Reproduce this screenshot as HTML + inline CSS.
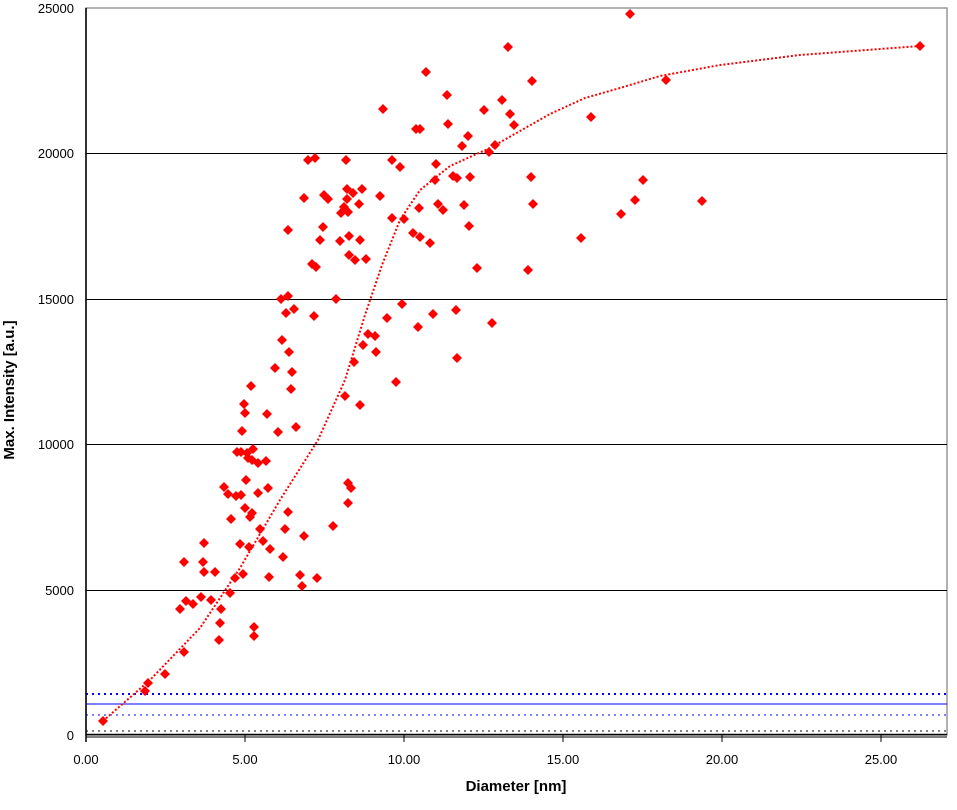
<!DOCTYPE html>
<html><head><style>body{margin:0;background:#fff}</style></head><body>
<svg width="957" height="805" xmlns="http://www.w3.org/2000/svg" xmlns:xlink="http://www.w3.org/1999/xlink" font-family="Liberation Sans, sans-serif">
<defs><polygon id="d" points="0,-5 5,0 0,5 -5,0" fill="#f00"/></defs>
<rect x="86" y="8" width="861" height="727" fill="#fff" stroke="#999" stroke-width="1.5"/>
<g stroke="#000" stroke-width="1">
<line x1="86" y1="153.5" x2="947" y2="153.5"/><line x1="86" y1="299.5" x2="947" y2="299.5"/>
<line x1="86" y1="444.5" x2="947" y2="444.5"/><line x1="86" y1="590.5" x2="947" y2="590.5"/>
</g>
<line x1="86" y1="694" x2="947" y2="694" stroke="#00f" stroke-width="2" stroke-dasharray="2,4"/>
<line x1="86" y1="704" x2="947" y2="704" stroke="#00f" stroke-width="1"/>
<line x1="86" y1="715" x2="947" y2="715" stroke="#00f" stroke-width="1" stroke-dasharray="2,4"/>
<line x1="86" y1="731" x2="947" y2="731" stroke="#000" stroke-width="1" stroke-dasharray="2,4"/>
<line x1="86" y1="734.5" x2="947" y2="734.5" stroke="#000" stroke-width="1.5"/>
<line x1="86" y1="737" x2="947" y2="737" stroke="#000" stroke-width="1"/>
<line x1="86" y1="8" x2="86" y2="742" stroke="#000" stroke-width="1.5"/>
<g stroke="#000"><line x1="245" y1="735" x2="245" y2="742"/><line x1="404" y1="735" x2="404" y2="742"/><line x1="563" y1="735" x2="563" y2="742"/><line x1="722" y1="735" x2="722" y2="742"/><line x1="881" y1="735" x2="881" y2="742"/></g>
<g font-size="13" text-anchor="end" fill="#000">
<text x="74" y="13">25000</text><text x="74" y="158">20000</text><text x="74" y="304">15000</text>
<text x="74" y="449">10000</text><text x="74" y="595">5000</text><text x="74" y="740">0</text></g>
<g font-size="13" text-anchor="middle">
<text x="86" y="764">0.00</text><text x="245" y="764">5.00</text><text x="404" y="764">10.00</text>
<text x="563" y="764">15.00</text><text x="722" y="764">20.00</text><text x="881" y="764">25.00</text></g>
<text x="516" y="791" font-size="15" font-weight="bold" text-anchor="middle">Diameter [nm]</text>
<text transform="translate(14,390) rotate(-90)" font-size="15" font-weight="bold" text-anchor="middle">Max. Intensity [a.u.]</text>
<polyline fill="none" stroke="#f00" stroke-width="2" stroke-dasharray="2,2" points="103,721 150,680 200,628 240,568 280,500 318,440 345,380 365,315 382,265 400,220 420,190 450,166 490,148 520,131 550,114 585,98 620,88 660,76 720,65 800,55 920,46"/>
<g>
<use href="#d" x="103" y="721"/><use href="#d" x="145" y="691"/><use href="#d" x="148" y="683"/><use href="#d" x="165" y="674"/><use href="#d" x="184" y="652"/><use href="#d" x="180" y="609"/><use href="#d" x="186" y="601"/><use href="#d" x="184" y="562"/><use href="#d" x="193" y="604"/><use href="#d" x="204" y="572"/><use href="#d" x="201" y="597"/><use href="#d" x="203" y="562"/><use href="#d" x="204" y="543"/><use href="#d" x="215" y="572"/><use href="#d" x="211" y="600"/><use href="#d" x="219" y="640"/><use href="#d" x="220" y="623"/><use href="#d" x="221" y="609"/><use href="#d" x="224" y="487"/><use href="#d" x="228" y="494"/><use href="#d" x="231" y="519"/><use href="#d" x="230" y="593"/><use href="#d" x="235" y="578"/><use href="#d" x="237" y="452"/><use href="#d" x="236" y="496"/><use href="#d" x="241" y="495"/><use href="#d" x="240" y="544"/><use href="#d" x="243" y="574"/><use href="#d" x="241" y="452"/><use href="#d" x="242" y="431"/><use href="#d" x="245" y="413"/><use href="#d" x="244" y="404"/><use href="#d" x="247" y="453"/><use href="#d" x="246" y="480"/><use href="#d" x="245" y="508"/><use href="#d" x="248" y="458"/><use href="#d" x="249" y="547"/><use href="#d" x="251" y="386"/><use href="#d" x="252" y="460"/><use href="#d" x="253" y="449"/><use href="#d" x="254" y="636"/><use href="#d" x="254" y="627"/><use href="#d" x="252" y="513"/><use href="#d" x="250" y="517"/><use href="#d" x="258" y="463"/><use href="#d" x="258" y="493"/><use href="#d" x="260" y="529"/><use href="#d" x="263" y="541"/><use href="#d" x="267" y="414"/><use href="#d" x="268" y="488"/><use href="#d" x="266" y="461"/><use href="#d" x="270" y="549"/><use href="#d" x="269" y="577"/><use href="#d" x="275" y="368"/><use href="#d" x="278" y="432"/><use href="#d" x="281" y="299"/><use href="#d" x="282" y="340"/><use href="#d" x="283" y="557"/><use href="#d" x="285" y="529"/><use href="#d" x="286" y="313"/><use href="#d" x="288" y="230"/><use href="#d" x="288" y="296"/><use href="#d" x="288" y="512"/><use href="#d" x="289" y="352"/><use href="#d" x="291" y="389"/><use href="#d" x="292" y="372"/><use href="#d" x="294" y="309"/><use href="#d" x="296" y="427"/><use href="#d" x="300" y="575"/><use href="#d" x="302" y="586"/><use href="#d" x="304" y="198"/><use href="#d" x="304" y="536"/><use href="#d" x="308" y="160"/><use href="#d" x="312" y="264"/><use href="#d" x="314" y="316"/><use href="#d" x="315" y="158"/><use href="#d" x="316" y="267"/><use href="#d" x="317" y="578"/><use href="#d" x="320" y="240"/><use href="#d" x="323" y="227"/><use href="#d" x="324" y="195"/><use href="#d" x="328" y="199"/><use href="#d" x="333" y="526"/><use href="#d" x="336" y="299"/><use href="#d" x="340" y="241"/><use href="#d" x="341" y="213"/><use href="#d" x="344" y="207"/><use href="#d" x="345" y="396"/><use href="#d" x="347" y="199"/><use href="#d" x="348" y="483"/><use href="#d" x="347" y="189"/><use href="#d" x="346" y="160"/><use href="#d" x="348" y="212"/><use href="#d" x="348" y="503"/><use href="#d" x="349" y="255"/><use href="#d" x="349" y="236"/><use href="#d" x="351" y="488"/><use href="#d" x="353" y="193"/><use href="#d" x="354" y="362"/><use href="#d" x="355" y="260"/><use href="#d" x="359" y="204"/><use href="#d" x="360" y="240"/><use href="#d" x="360" y="405"/><use href="#d" x="362" y="189"/><use href="#d" x="363" y="345"/><use href="#d" x="366" y="259"/><use href="#d" x="368" y="334"/><use href="#d" x="375" y="336"/><use href="#d" x="376" y="352"/><use href="#d" x="380" y="196"/><use href="#d" x="383" y="109"/><use href="#d" x="387" y="318"/><use href="#d" x="392" y="160"/><use href="#d" x="392" y="218"/><use href="#d" x="396" y="382"/><use href="#d" x="400" y="167"/><use href="#d" x="402" y="304"/><use href="#d" x="404" y="219"/><use href="#d" x="413" y="233"/><use href="#d" x="416" y="129"/><use href="#d" x="420" y="129"/><use href="#d" x="419" y="208"/><use href="#d" x="418" y="327"/><use href="#d" x="420" y="237"/><use href="#d" x="426" y="72"/><use href="#d" x="430" y="243"/><use href="#d" x="433" y="314"/><use href="#d" x="435" y="180"/><use href="#d" x="436" y="164"/><use href="#d" x="438" y="204"/><use href="#d" x="443" y="210"/><use href="#d" x="447" y="95"/><use href="#d" x="448" y="124"/><use href="#d" x="453" y="176"/><use href="#d" x="457" y="178"/><use href="#d" x="457" y="358"/><use href="#d" x="456" y="310"/><use href="#d" x="462" y="146"/><use href="#d" x="464" y="205"/><use href="#d" x="468" y="136"/><use href="#d" x="470" y="177"/><use href="#d" x="469" y="226"/><use href="#d" x="477" y="268"/><use href="#d" x="484" y="110"/><use href="#d" x="489" y="152"/><use href="#d" x="492" y="323"/><use href="#d" x="495" y="145"/><use href="#d" x="502" y="100"/><use href="#d" x="508" y="47"/><use href="#d" x="510" y="114"/><use href="#d" x="514" y="125"/><use href="#d" x="528" y="270"/><use href="#d" x="531" y="177"/><use href="#d" x="532" y="81"/><use href="#d" x="533" y="204"/><use href="#d" x="581" y="238"/><use href="#d" x="591" y="117"/><use href="#d" x="621" y="214"/><use href="#d" x="630" y="14"/><use href="#d" x="635" y="200"/><use href="#d" x="643" y="180"/><use href="#d" x="666" y="80"/><use href="#d" x="702" y="201"/><use href="#d" x="920" y="46"/>
</g>
</svg>
</body></html>
